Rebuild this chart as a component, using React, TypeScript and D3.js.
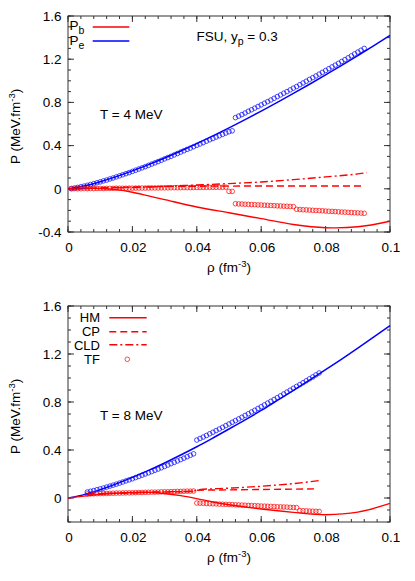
import * as d3 from "d3";

const FONT = "'Liberation Sans', Arial, Helvetica, sans-serif";
const RED = "#ff0000";
const BLUE = "#0000ff";
const FRAME = "#333333";

// tick values / labels
const RHO_TICKS = [0, 0.02, 0.04, 0.06, 0.08, 0.1];
const RHO_LABELS = ["0", "0.02", "0.04", "0.06", "0.08", "0.1"];
const P_TICKS_T4 = [-0.4, 0, 0.4, 0.8, 1.2, 1.6];
const P_LABELS_T4 = ["-0.4", "0", "0.4", "0.8", "1.2", "1.6"];
const P_TICKS_T8 = [0, 0.4, 0.8, 1.2, 1.6];
const P_LABELS_T8 = ["0", "0.4", "0.8", "1.2", "1.6"];

// electron pressure, solid blue
const rhoPe = [0, 0.005, 0.01, 0.015, 0.02, 0.025, 0.03, 0.035, 0.04, 0.045, 0.05,
  0.055, 0.06, 0.065, 0.07, 0.075, 0.08, 0.085, 0.09, 0.095, 0.1];
const peT4 = [0, 0.026, 0.066, 0.113, 0.166, 0.224, 0.285, 0.35, 0.418, 0.49, 0.564,
  0.64, 0.719, 0.8, 0.883, 0.968, 1.055, 1.143, 1.234, 1.326, 1.42];
const peT8 = [0, 0.028, 0.0695, 0.118, 0.172, 0.23, 0.292, 0.358, 0.427, 0.5, 0.575,
  0.651, 0.73, 0.813, 0.896, 0.982, 1.07, 1.158, 1.249, 1.342, 1.437];

// HM baryon pressure, solid red
const rhoHmT4 = [0, 0.005, 0.01, 0.015, 0.02, 0.025, 0.03, 0.04, 0.05, 0.06, 0.07, 0.08, 0.09, 0.1];
const hmT4 = [0, 0.003, 0.003, -0.008, -0.032, -0.066, -0.1, -0.168, -0.222, -0.276, -0.33, -0.36, -0.352, -0.3];
const rhoHmT8 = [0, 0.005, 0.01, 0.015, 0.02, 0.025, 0.03, 0.035, 0.04, 0.045, 0.05, 0.06, 0.07, 0.08, 0.09, 0.1];
const hmT8 = [0, 0.016, 0.03, 0.04, 0.046, 0.047, 0.038, 0.02, -0.005, -0.033, -0.056, -0.092, -0.12, -0.139, -0.118, -0.045];

// CP, dashed red
const rhoCpT4 = [0, 0.01, 0.02, 0.03, 0.04, 0.05, 0.06, 0.07, 0.08, 0.0917];
const cpT4 = [0, 0.009, 0.016, 0.021, 0.024, 0.025, 0.026, 0.026, 0.026, 0.026];
const rhoCpT8 = [0.006, 0.01, 0.02, 0.03, 0.039, 0.04, 0.05, 0.06, 0.07, 0.077];
const cpT8 = [0.032, 0.036, 0.043, 0.05, 0.055, 0.065, 0.068, 0.071, 0.074, 0.076];

// CLD, dash-dot red
const rhoCldT4 = [0, 0.01, 0.02, 0.03, 0.04, 0.05, 0.06, 0.07, 0.08, 0.09, 0.0928];
const cldT4 = [0, 0.005, 0.012, 0.022, 0.035, 0.048, 0.063, 0.085, 0.11, 0.138, 0.15];
const rhoCldT8 = [0.006, 0.01, 0.02, 0.03, 0.039, 0.04, 0.05, 0.06, 0.07, 0.078];
const cldT8 = [0.032, 0.036, 0.044, 0.051, 0.057, 0.068, 0.082, 0.098, 0.12, 0.145];

// TF, open circles on a density grid (fm^-3): start and step
const TF_STEP = 0.001;
const TF_START_T4 = 0.001;
const TF_START_T8 = 0.006;
const tfPeT4 = [
  0.003, 0.007, 0.013, 0.019, 0.025, 0.032, 0.04, 0.048, 0.056, 0.064,
  0.073, 0.081, 0.091, 0.1, 0.11, 0.12, 0.13, 0.14, 0.15, 0.161,
  0.172, 0.183, 0.194, 0.205, 0.217, 0.229, 0.24, 0.252, 0.264, 0.277,
  0.289, 0.301, 0.314, 0.327, 0.34, 0.352, 0.365, 0.377, 0.39, 0.403,
  0.415, 0.428, 0.441, 0.454, 0.466, 0.479, 0.491, 0.504, 0.516, 0.528,
  0.537,
  0.659, 0.673, 0.687, 0.702, 0.718, 0.732, 0.747, 0.762, 0.777,
  0.792, 0.807, 0.822, 0.838, 0.854, 0.869, 0.885, 0.9, 0.916, 0.932,
  0.947, 0.964, 0.98, 0.996, 1.013, 1.029, 1.045, 1.062, 1.078, 1.095,
  1.112, 1.129, 1.145, 1.162, 1.179, 1.196, 1.213, 1.231, 1.249, 1.266,
  1.283, 1.3,
];
const tfPbT4 = [
  0, 0.001, 0.001, 0.001, 0.002, 0.002, 0.002, 0.002, 0.003, 0.003,
  0.003, 0.004, 0.004, 0.004, 0.005, 0.005, 0.005, 0.005, 0.006, 0.006,
  0.006, 0.007, 0.007, 0.007, 0.008, 0.008, 0.008, 0.008, 0.009, 0.009,
  0.009, 0.01, 0.01, 0.01, 0.011, 0.011, 0.011, 0.011, 0.012, 0.012,
  0.012, 0.013, 0.013, 0.013, 0.014, 0.014, 0.014, 0.014, 0.015,
  -0.024, -0.024,
  -0.138, -0.14, -0.141, -0.143, -0.144, -0.146, -0.147, -0.149, -0.15, -0.152,
  -0.153, -0.155, -0.156, -0.158, -0.159, -0.161, -0.162, -0.164, -0.165,
  -0.19, -0.192, -0.194, -0.195, -0.197, -0.199, -0.201, -0.202, -0.204, -0.206,
  -0.208, -0.209, -0.211, -0.213, -0.215, -0.216, -0.218, -0.22, -0.222, -0.223,
  -0.225, -0.227,
];
const tfPeT8 = [
  0.05, 0.056, 0.062, 0.069, 0.076, 0.083, 0.091, 0.099, 0.107, 0.115,
  0.124, 0.133, 0.142, 0.151, 0.16, 0.17, 0.18, 0.19, 0.2, 0.21,
  0.22, 0.231, 0.241, 0.252, 0.263, 0.274, 0.286, 0.297, 0.309, 0.32,
  0.332, 0.344, 0.356, 0.368,
  0.483, 0.496, 0.508, 0.521, 0.535, 0.548, 0.562, 0.575, 0.589, 0.603,
  0.617, 0.631, 0.645, 0.659, 0.673, 0.688, 0.702, 0.717, 0.731, 0.746,
  0.761, 0.776, 0.791, 0.806, 0.821, 0.836, 0.851, 0.867, 0.883, 0.898,
  0.914, 0.93, 0.945, 0.961, 0.977, 0.993, 1.009, 1.026, 1.042,
];
const tfPbT8 = [
  0.034, 0.035, 0.035, 0.036, 0.037, 0.038, 0.038, 0.039, 0.04, 0.041,
  0.041, 0.042, 0.043, 0.043, 0.044, 0.045, 0.046, 0.046, 0.047, 0.048,
  0.049, 0.049, 0.05, 0.051, 0.052, 0.052, 0.053, 0.054, 0.055, 0.055,
  0.056, 0.057, 0.057, 0.058,
  -0.042, -0.043, -0.044, -0.046, -0.047, -0.048, -0.049, -0.051, -0.052, -0.053,
  -0.054, -0.055, -0.057, -0.058, -0.059, -0.06, -0.062, -0.063, -0.064, -0.065,
  -0.067, -0.068, -0.069, -0.07, -0.071, -0.073, -0.074, -0.075, -0.076, -0.078,
  -0.079, -0.08,
  -0.105, -0.106, -0.107, -0.109, -0.11, -0.111, -0.112,
];

const X0 = 68;
const X1 = 390;
const FS = 13.5;

type PanelProps = {
  top: number;
  bottom: number;
  yDomain: [number, number];
  yTicks: number[];
  yLabels: string[];
  pe: number[];
  rhoHm: number[];
  hm: number[];
  rhoCp: number[];
  cp: number[];
  rhoCld: number[];
  cld: number[];
  tfStart: number;
  tfPe: number[];
  tfPb: number[];
  children?: any;
};

function Panel(p: PanelProps) {
  const x = d3.scaleLinear().domain([0, 0.1]).range([X0, X1]);
  const y = d3.scaleLinear().domain(p.yDomain).range([p.bottom, p.top]);
  const path = (xs: number[], ys: number[], curve: d3.CurveFactory = d3.curveMonotoneX) =>
    d3.line<number>()
      .x((_, i) => x(xs[i]))
      .y((d) => y(d))
      .curve(curve)(ys) || "";

  const xMinor = d3.range(0, 0.1001, 0.004);
  const yMinor = d3.range(Math.round(p.yDomain[0] * 10), Math.round(p.yDomain[1] * 10) + 1).map((v) => v / 10);

  return (
    <g>
      {/* ticks on all four sides */}
      {xMinor.map((v, i) => (
        <g key={"xm" + i} stroke={FRAME} strokeWidth={1}>
          <line x1={x(v)} x2={x(v)} y1={p.bottom} y2={p.bottom - 3} />
          <line x1={x(v)} x2={x(v)} y1={p.top} y2={p.top + 3} />
        </g>
      ))}
      {RHO_TICKS.map((v, i) => (
        <g key={"xM" + i}>
          <line x1={x(v)} x2={x(v)} y1={p.bottom} y2={p.bottom - 6} stroke={FRAME} />
          <line x1={x(v)} x2={x(v)} y1={p.top} y2={p.top + 6} stroke={FRAME} />
          <text x={x(v) + 1} y={p.bottom + 19.7} textAnchor="middle" fontSize={FS} fontFamily={FONT}>
            {RHO_LABELS[i]}
          </text>
        </g>
      ))}
      {yMinor.map((v, i) => (
        <g key={"ym" + i} stroke={FRAME} strokeWidth={1}>
          <line x1={X0} x2={X0 + 3} y1={y(v)} y2={y(v)} />
          <line x1={X1} x2={X1 - 3} y1={y(v)} y2={y(v)} />
        </g>
      ))}
      {p.yTicks.map((v, i) => (
        <g key={"yM" + i}>
          <line x1={X0} x2={X0 + 6} y1={y(v)} y2={y(v)} stroke={FRAME} />
          <line x1={X1} x2={X1 - 6} y1={y(v)} y2={y(v)} stroke={FRAME} />
          <text x={61.5} y={y(v)} dy="0.35em" textAnchor="end" fontSize={FS} fontFamily={FONT}>
            {p.yLabels[i]}
          </text>
        </g>
      ))}
      <rect x={X0} y={p.top} width={X1 - X0} height={p.bottom - p.top} fill="none" stroke={FRAME} strokeWidth={1} />

      {/* axis titles */}
      <text x={(X0 + X1) / 2} y={p.bottom + 40} textAnchor="middle" fontSize={FS} fontFamily={FONT}>
        ρ (fm<tspan fontSize={9.5} dy={-5}>-3</tspan><tspan dy={5}>)</tspan>
      </text>
      <text transform={`translate(19.5, ${p.bottom - 68}) rotate(-90)`} fontSize={FS} fontFamily={FONT}>
        P (MeV.fm<tspan fontSize={9.5} dy={-5}>-3</tspan><tspan dy={5}>)</tspan>
      </text>

      {/* curves */}
      <path d={path(rhoPe, p.pe)} fill="none" stroke={BLUE} strokeWidth={1.5} />
      <path d={path(p.rhoHm, p.hm, d3.curveCatmullRom.alpha(0.5))} fill="none" stroke={RED} strokeWidth={1.4} />
      <path d={path(p.rhoCp, p.cp)} fill="none" stroke={RED} strokeWidth={1.4} strokeDasharray="7,4" />
      <path d={path(p.rhoCld, p.cld)} fill="none" stroke={RED} strokeWidth={1.4} strokeDasharray="8,3,2,3" />

      {p.tfPe.map((v, i) => (
        <circle key={"te" + i} cx={x(p.tfStart + i * TF_STEP)} cy={y(v)} r={2.3} fill="none" stroke={BLUE} strokeWidth={0.7} />
      ))}
      {p.tfPb.map((v, i) => (
        <circle key={"tb" + i} cx={x(p.tfStart + i * TF_STEP)} cy={y(v)} r={2.3} fill="none" stroke={RED} strokeWidth={0.7} />
      ))}
      {p.children}
    </g>
  );
}

export default function App() {
  return (
    <svg width={415} height={581} style={{ position: "absolute", left: 0, top: 0, background: "#fff" }}>
      <rect width={415} height={581} fill="#fff" />
      <Panel
        top={16}
        bottom={232}
        yDomain={[-0.4, 1.6]}
        yTicks={P_TICKS_T4}
        yLabels={P_LABELS_T4}
        pe={peT4}
        rhoHm={rhoHmT4}
        hm={hmT4}
        rhoCp={rhoCpT4}
        cp={cpT4}
        rhoCld={rhoCldT4}
        cld={cldT4}
        tfStart={TF_START_T4}
        tfPe={tfPeT4}
        tfPb={tfPbT4}
      >
        <g fontFamily={FONT} fontSize={FS}>
          <text x={69.5} y={30}>P<tspan fontSize={10.5} dy={4}>b</tspan></text>
          <text x={69.5} y={45}>P<tspan fontSize={10.5} dy={4}>e</tspan></text>
          <line x1={92.7} x2={129.3} y1={27} y2={27} stroke={RED} strokeWidth={1.4} />
          <line x1={92.7} x2={129.3} y1={41} y2={41} stroke={BLUE} strokeWidth={1.5} />
          <text x={196.5} y={40.7}>FSU, y<tspan fontSize={10.5} dy={4}>p</tspan><tspan dy={-4}> = 0.3</tspan></text>
          <text x={100} y={118.5}>T = 4 MeV</text>
        </g>
      </Panel>
      <Panel
        top={306}
        bottom={522}
        yDomain={[-0.2, 1.6]}
        yTicks={P_TICKS_T8}
        yLabels={P_LABELS_T8}
        pe={peT8}
        rhoHm={rhoHmT8}
        hm={hmT8}
        rhoCp={rhoCpT8}
        cp={cpT8}
        rhoCld={rhoCldT8}
        cld={cldT8}
        tfStart={TF_START_T8}
        tfPe={tfPeT8}
        tfPb={tfPbT8}
      >
        <g fontFamily={FONT} fontSize={13}>
          <text x={100} y={321.7} textAnchor="end">HM</text>
          <text x={100} y={336} textAnchor="end">CP</text>
          <text x={100} y={349.8} textAnchor="end">CLD</text>
          <text x={100} y={364} textAnchor="end">TF</text>
          <line x1={109.3} x2={146.7} y1={317.7} y2={317.7} stroke={RED} strokeWidth={1.4} />
          <line x1={109.3} x2={146.7} y1={331.7} y2={331.7} stroke={RED} strokeWidth={1.4} strokeDasharray="7,4" />
          <line x1={109.3} x2={146.7} y1={344.8} y2={344.8} stroke={RED} strokeWidth={1.4} strokeDasharray="8,3,2,3" />
          <circle cx={127.3} cy={359.3} r={2.3} fill="none" stroke={RED} strokeWidth={0.7} />
          <text x={100} y={420} fontSize={FS}>T = 8 MeV</text>
        </g>
      </Panel>
    </svg>
  );
}
